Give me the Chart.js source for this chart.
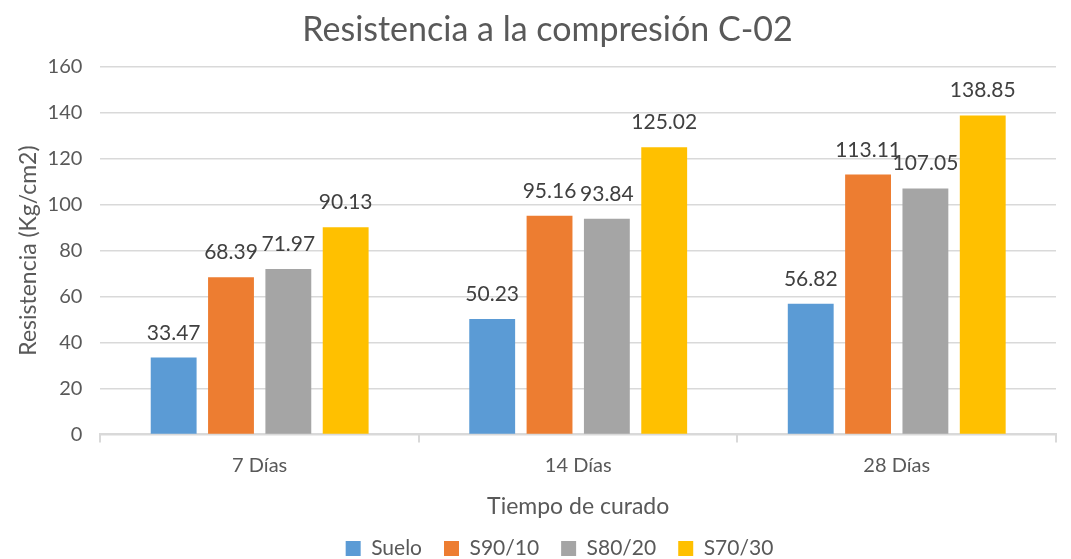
<!DOCTYPE html>
<html>
<head>
<meta charset="utf-8">
<script src="https://cdn.jsdelivr.net/npm/chart.js@4"></script>
<style>
  html, body { margin: 0; padding: 0; background: #fff; }
  #wrap { width: 1071px; height: 559px; }
</style>
</head>
<body>
<div id="wrap"><canvas id="myChart" width="1071" height="559"></canvas></div>
<script>
'use strict'

// data
const categories = ['7 Días', '14 Días', '28 Días'];
const seriesNames = ['Suelo', 'S90/10', 'S80/20', 'S70/30'];
const suelo = [33.47, 50.23, 56.82];
const s9010 = [68.39, 95.16, 113.11];
const s8020 = [71.97, 93.84, 107.05];
const s7030 = [90.13, 125.02, 138.85];
const colors = ['#5b9bd5', '#ed7d31', '#a5a5a5', '#ffc000'];

const fontFam = 'Lato, "Open Sans", sans-serif';
const textGrey = '#595959';

// value labels over each bar
const barLabels = {
  id: 'barLabels',
  afterDatasetsDraw(chart) {
    const ctx = chart.ctx;
    ctx.save();
    ctx.font = '21px ' + fontFam;
    ctx.fillStyle = '#404040';
    ctx.textAlign = 'center';
    ctx.textBaseline = 'alphabetic';
    chart.data.datasets.forEach((ds, i) => {
      chart.getDatasetMeta(i).data.forEach((bar, j) => {
        ctx.fillText(ds.data[j].toFixed(2), bar.x, bar.y - 18);
      });
    });
    ctx.restore();
  }
};

// excel centres title and legend a bit more to the right
const nudge = {
  id: 'nudge',
  afterLayout(chart) {
    chart.legend.left += 24;
    chart.legend.right += 24;
    chart.titleBlock.left += 12;
    chart.titleBlock.right += 12;
  }
};

const allSeries = [suelo, s9010, s8020, s7030];

const data = {
  labels: categories,
  datasets: allSeries.map((vals, i) => ({
    label: seriesNames[i],
    data: vals,
    backgroundColor: colors[i],
    categoryPercentage: 0.72,
    barPercentage: 0.8
  }))
};

const config = {
  type: 'bar',
  data: data,
  options: {
    responsive: false,
    animation: false,
    layout: { padding: { left: 15, right: 15, top: 6, bottom: -10 } },
    plugins: {
      title: {
        display: true,
        text: 'Resistencia a la compresión C-02',
        color: textGrey,
        font: { family: fontFam, size: 34, weight: 'normal' },
        padding: { top: 4, bottom: 16 }
      },
      legend: {
        position: 'bottom',
        labels: {
          color: textGrey,
          font: { family: fontFam, size: 21 },
          boxWidth: 15,
          boxHeight: 15,
          padding: 22
        }
      },
      tooltip: { enabled: false }
    },
    scales: {
      x: {
        grid: { display: true, drawOnChartArea: false, color: '#d9d9d9', tickLength: 8, lineWidth: 2 },
        border: { color: '#d9d9d9', width: 2 },
        ticks: { color: textGrey, font: { family: fontFam, size: 20 }, padding: 11 },
        title: {
          display: true,
          text: 'Tiempo de curado',
          color: textGrey,
          font: { family: fontFam, size: 23 },
          padding: { top: 4, bottom: -4 }
        }
      },
      y: {
        min: 0,
        max: 160,
        ticks: { stepSize: 20, color: textGrey, font: { family: fontFam, size: 20 }, padding: 18 },
        grid: { color: '#d9d9d9', drawTicks: false, lineWidth: 1.5 },
        border: { display: false },
        title: {
          display: true,
          text: 'Resistencia (Kg/cm2)',
          color: textGrey,
          font: { family: fontFam, size: 23 },
          padding: { top: 0, bottom: -13 }
        }
      }
    }
  },
  plugins: [barLabels, nudge]
};

const myChart = new Chart(document.getElementById('myChart'), config);
</script>
</body>
</html>
